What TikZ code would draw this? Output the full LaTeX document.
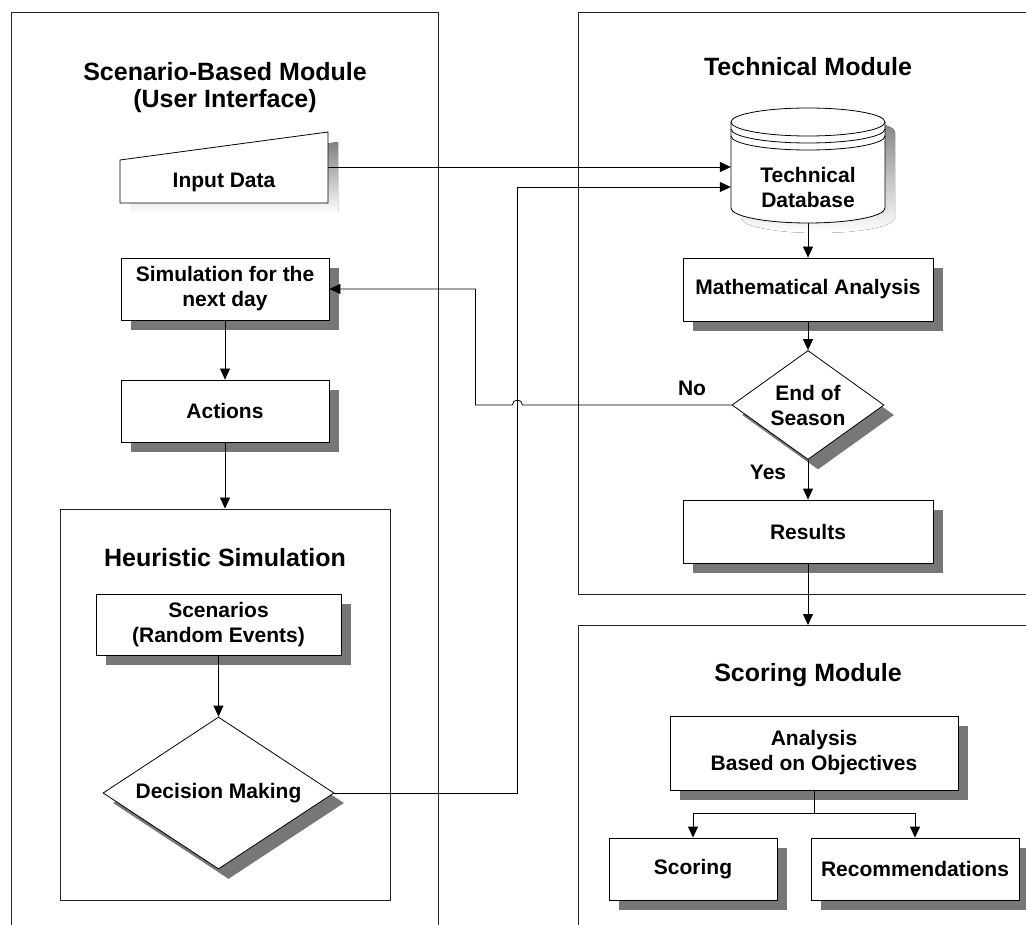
\documentclass[tikz,border=0pt]{standalone}
\usepackage{fontspec}
\setmainfont{Liberation Sans}
\usetikzlibrary{arrows.meta,shapes.geometric,shadows,calc}
\definecolor{shade}{HTML}{777777}
\definecolor{framecol}{HTML}{222222}
\tikzset{
  base/.style={font=\fontsize{21pt}{25pt}\selectfont\bfseries, align=center, inner sep=0pt},
  title/.style={font=\fontsize{25pt}{27pt}\selectfont\bfseries, align=center, inner sep=0pt},
  boxsh/.style={general shadow={fill=shade, shadow xshift=10pt, shadow yshift=-10pt}},
  proc/.style={base, draw=black, fill=white, line width=0.8pt, boxsh},
  decision/.style={base, shape=diamond, aspect=1.5, draw=black, fill=white, line width=0.8pt, boxsh},
  panel/.style={draw=framecol, line width=1pt},
  arr/.style={draw=black, line width=0.8pt, -{Triangle[length=11pt,width=10pt]}},
  plain/.style={draw=black, line width=0.8pt}
}
\begin{document}
\begin{tikzpicture}[x=1pt,y=-1pt]
\useasboundingbox[fill=white] (0,0) rectangle (1026,925);

% module frames
\draw[panel] (11,925) -- (11,13) -- (438,13) -- (438,925);
\draw[panel] (1026,13) -- (578,13) -- (578,594) -- (1026,594);
\draw[panel] (1026,625) -- (578,625) -- (578,925);
\node[panel, minimum width=330pt, minimum height=391pt, inner sep=0pt] (heur) at (225,704.5) {};

% module titles
\node[title] (t1) at (225,88) {Scenario-Based Module\\(User Interface)};
\node[title] (t2) at (808,67) {Technical Module};
\node[title] (t3) at (808,675) {Scoring Module};
\node[title] (t4) at (225,558) {Heuristic Simulation};

% manual input shape
\fill[shade] (130,170) -- (338,142) -- (338,213) -- (130,213) -- cycle;
\draw[plain, fill=white] (120,160) -- (328,132) -- (328,203) -- (120,203) -- cycle;
\node[base, minimum width=208pt, minimum height=42pt] (in) at (224,182) {Input Data};

% database cylinder
\fill[shade] (741,132) -- (741,218)
  arc[start angle=180, end angle=360, x radius=77pt, y radius=15pt]
  -- (895,132) arc[start angle=0, end angle=180, x radius=77pt, y radius=14pt] -- cycle;
\draw[plain, fill=white] (731,122) -- (731,208)
  arc[start angle=180, end angle=360, x radius=77pt, y radius=15pt]
  -- (885,122) arc[start angle=0, end angle=180, x radius=77pt, y radius=14pt] -- cycle;
\draw[plain] (731,122) arc[start angle=180, end angle=360, x radius=77pt, y radius=14pt];
\draw[plain] (731,129) arc[start angle=180, end angle=360, x radius=77pt, y radius=14pt];
\draw[plain] (731,136) arc[start angle=180, end angle=360, x radius=77pt, y radius=14pt];
\node[base, minimum width=154pt, minimum height=72pt] (db) at (808,187) {Technical\\Database};

% process steps
\node[proc, minimum width=208pt, minimum height=62pt] (sim) at (225,289) {Simulation for the\\next day};
\node[proc, minimum width=208pt, minimum height=62pt] (act) at (225,411) {Actions};
\node[proc, minimum width=245pt, minimum height=61pt] (scn) at (218.5,624.5) {Scenarios\\(Random Events)};
\node[decision, minimum width=231pt, minimum height=152pt] (dm) at (218.5,793) {Decision Making};
\node[proc, minimum width=250pt, minimum height=63pt] (math) at (808,289.5) {Mathematical Analysis};
\node[decision, minimum width=152pt, minimum height=109pt] (eos) at (808,405) {End of\\Season};
\node[proc, minimum width=250pt, minimum height=63pt] (res) at (808,531.5) {Results};
\node[proc, minimum width=288pt, minimum height=74pt] (ana) at (814,753) {Analysis\\Based on Objectives};
\node[proc, minimum width=168pt, minimum height=62pt] (sc) at (693,869) {Scoring};
\node[proc, minimum width=208pt, minimum height=62pt] (rec) at (915,869) {Recommendations};

\node[base] (no) at (692,388) {No};
\node[base] (yes) at (768,472) {Yes};

% connectors
\coordinate (inout) at ([yshift=15pt]in.east);
\draw[arr] (inout) -- (inout -| db.west);
\path (dm.east) -- ++(183,0) coordinate (dmturn);
\draw[arr] (dm.east) -- (dmturn) |- (db.west);
\coordinate (jx) at (dmturn |- eos.west);
\draw[arr] (eos.west) -- ([xshift=5pt]jx)
  arc[start angle=0, end angle=180, radius=5pt] -- ++(-37,0) |- (sim.east);
\draw[arr] (db.south) -- (math.north);
\draw[arr] (math.south) -- (eos.north);
\draw[arr] (eos.south) -- (res.north);
\coordinate (scoretop) at (808,625);
\draw[arr] (res.south) -- (scoretop);
\draw[arr] (sim.south) -- (act.north);
\draw[arr] (act.south) -- (act.south |- heur.north);
\draw[arr] (scn.south) -- (dm.north);
\draw[arr] (ana.south) -- ++(0,23) -| (sc.north);
\draw[arr] (ana.south) -- ++(0,23) -| (rec.north);
\end{tikzpicture}
\end{document}
